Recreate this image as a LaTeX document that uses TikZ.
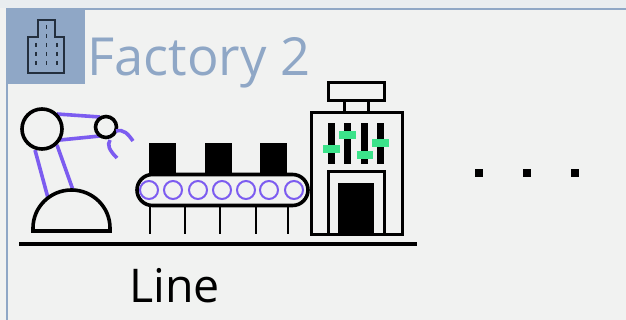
\documentclass[tikz,border=0pt]{standalone}
\usepackage{fontspec}
\setmainfont{Open Sans}
\definecolor{bgcol}{HTML}{F1F2F1}
\definecolor{topcol}{HTML}{E9EDF0}
\definecolor{frameblue}{HTML}{8FA7C6}
\definecolor{iconink}{HTML}{232F3E}
\definecolor{armpurple}{HTML}{7C5CF0}
\definecolor{ledgreen}{HTML}{3BE38A}
\tikzset{
  ink/.style={draw=black, line width=3.6pt},
  arm/.style={draw=armpurple, line width=3.6pt},
  roller/.style={draw=armpurple, line width=2pt},
  leg/.style={draw=black, line width=2.8pt},
  slab/.style={fill=black},
  led/.style={fill=ledgreen},
  dot/.style={fill=black, minimum size=8pt, inner sep=0pt, draw=none},
}
\begin{document}
\begin{tikzpicture}[x=1pt,y=-1pt]
\useasboundingbox (0,0) rectangle (626,320);
% backdrop and frame
\fill[bgcol] (0,0) rectangle (626,320);
\fill[topcol] (0,0) rectangle (626,8);
\draw[frameblue, line width=2pt] (7,320) -- (7,9.5) -- (626,9.5);
% title badge with building glyph
\fill[frameblue] (7,10) rectangle (85,84);
\draw[iconink, line width=1.6pt, line join=miter]
  (28,73) -- (28,37) -- (38,37) -- (38,20) -- (55,20) -- (55,37) -- (64,37) -- (64,73) -- cycle;
\foreach \yy in {27,36} \draw[iconink, line width=1.5pt] (46.5,\yy-2) -- (46.5,\yy+2);
\foreach \xx in {36,46.5,57}
  \foreach \yy in {45,54,63}
    \draw[iconink, line width=1.5pt] (\xx,\yy-2) -- (\xx,\yy+2);
\node[anchor=base west, text=frameblue, font=\fontsize{52.5}{60}\selectfont, inner sep=0pt] (title) at (87,76) {Factory 2};
% robot arm
\draw[arm] (35,150) -- (48,198);
\draw[arm] (57,145) -- (73,190);
\draw[arm] (57,114) -- (100,117);
\draw[arm] (60,140) -- (100,136);
\draw[ink, fill=bgcol] (33,231) -- (33,228) arc[start angle=180, end angle=360, x radius=38.5, y radius=38] -- (110,231) -- cycle;
\node[circle, ink, fill=bgcol, minimum size=40pt, inner sep=0pt] (shoulder) at (42,129) {};
\node[circle, ink, fill=bgcol, minimum size=21pt, inner sep=0pt] (wrist) at (106,127) {};
\draw[arm] (116,131) .. controls (124,129) and (128,134) .. (133,141);
\draw[arm] (110,140) .. controls (107,145) and (109,150) .. (117,158);
% conveyor
\foreach \xx in {150,185,220,256,288} \draw[leg] (\xx,205) -- (\xx,234);
\fill[slab] (149,143) rectangle (176,174);
\fill[slab] (205,143) rectangle (232,174);
\fill[slab] (260,143) rectangle (287,174);
\draw[ink, fill=bgcol, rounded corners=15.5pt] (137,174.5) rectangle (308,205.5);
\foreach \xx in {149,173,198,222,246,269,294}
  \draw[roller] (\xx,190) circle[radius=9];
% factory building
\draw[ink, line width=3pt] (328,83) rectangle (384,101);
\draw[ink, line width=3pt] (344,101) rectangle (368,113);
\draw[ink, line width=3pt, fill=bgcol] (311,113) rectangle (402,235);
\foreach \xx in {328,344,361,377} \fill[slab] (\xx,123) rectangle (\xx+6.5,164);
\fill[led] (323,145) rectangle (340,153);
\fill[led] (339,131) rectangle (356,139);
\fill[led] (357,151) rectangle (373,159);
\fill[led] (372,139) rectangle (389,147);
\draw[ink, line width=3pt] (328,235) -- (328,172) -- (384,172) -- (384,235);
\fill[slab] (338,183) rectangle (374,235);
% ground line and caption
\draw[black, line width=3.4pt] (19,244) -- (417,244);
\node[anchor=base west, font=\fontsize{46.5}{54}\selectfont, inner sep=0pt] (caption) at (129,302) {Line};
% continuation marks
\node[dot] (d1) at (479,173) {};
\node[dot] (d2) at (527,173) {};
\node[dot] (d3) at (575,173) {};
\end{tikzpicture}
\end{document}
